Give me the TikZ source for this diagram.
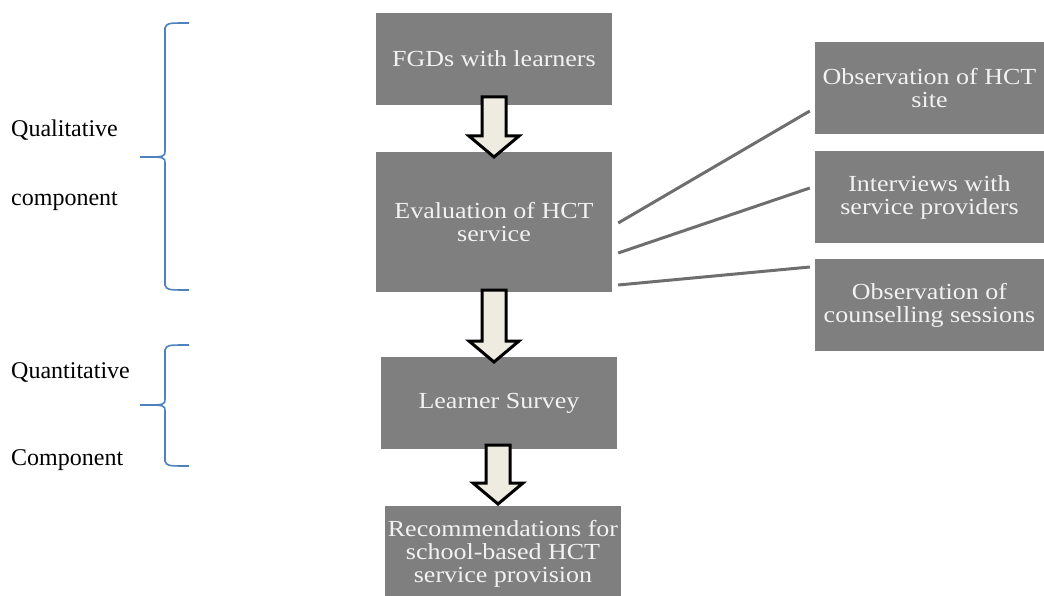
\documentclass[tikz,border=0pt]{standalone}
\usepackage{fontspec}
\setmainfont{Liberation Serif}
\newfontfamily\boxfont{Liberation Serif}[FakeStretch=1.13]
\usetikzlibrary{calc}
\definecolor{boxgray}{HTML}{7F7F7F}
\definecolor{linegray}{HTML}{6E6E6E}
\definecolor{braceblue}{HTML}{4F81BD}
\definecolor{arrowfill}{HTML}{EEECE1}
\definecolor{boxtext}{HTML}{F2F2F2}
\tikzset{
  grbox/.style={rectangle, fill=boxgray, text=boxtext, align=center,
    minimum width=236pt, minimum height=92pt, inner sep=2pt,
    font=\boxfont\fontsize{23}{23}\selectfont},
  sidebox/.style={grbox, minimum width=229pt},
  lbl/.style={anchor=west, inner sep=0pt, font=\fontsize{24}{24}\selectfont},
  link/.style={draw=linegray, line width=3pt},
  brace/.style={draw=braceblue, line width=1.6pt},
  blockarr/.style={draw=black, line width=3pt, fill=arrowfill, line join=miter},
}
\newcommand\myblockarrow[3]{% x, ytop, ybottom
  \draw[blockarr] ($(#1-12,#2)$) -- ($(#1+12,#2)$) -- ($(#1+12,#3-21)$) -- ($(#1+25,#3-21)$)
    -- ($(#1,#3)$) -- ($(#1-25,#3-21)$) -- ($(#1-12,#3-21)$) -- cycle;}
\begin{document}
\begin{tikzpicture}[x=1pt,y=-1pt]
\useasboundingbox (0,0) rectangle (1044,596);
% main boxes
\node[grbox] (fgd) at (494,59) {FGDs with learners};
\node[grbox, minimum height=140pt] (eval) at (494,222) {Evaluation of HCT\\service};
\node[grbox] (survey) at (499,403) {Learner Survey};
\node[grbox, minimum height=90pt] (rec) at (503,551) {};
\node[text=boxtext, align=center, inner sep=0pt, font=\boxfont\fontsize{23}{23}\selectfont]
  (rectext) at (503,554) {Recommendations for\\school-based HCT\\service provision};
% side boxes
\node[sidebox] (obs) at (929.5,88) {Observation of HCT\\site};
\node[sidebox] (int) at (929.5,197) {Interviews with\\service providers};
\node[sidebox] (cou) at (929.5,305) {Observation of\\counselling sessions};
% block arrows
\myblockarrow{494}{97}{157}
\myblockarrow{494}{290}{362}
\myblockarrow{498}{445}{504}
% links
\coordinate (e1) at ($(eval.east)+(6,1)$);
\coordinate (e2) at ($(eval.east)+(6,31)$);
\coordinate (e3) at ($(eval.east)+(6,63)$);
\draw[link] (e1) -- ($(obs.west)+(-5,23)$);
\draw[link] (e2) -- ($(int.west)+(-5,-9)$);
\draw[link] (e3) -- ($(cou.west)+(-5,-38)$);
% braces
\draw[brace] (189,23) .. controls (167,23) .. (165,28) -- (165,151)
  .. controls (165,157) .. (140,157) .. controls (165,157) .. (165,163)
  -- (165,285) .. controls (167,290) .. (189,290);
\draw[brace] (189,345) .. controls (167,345) .. (165,350) -- (165,399)
  .. controls (165,405) .. (140,405) .. controls (165,405) .. (165,411)
  -- (165,461) .. controls (167,466) .. (189,466);
% labels
\node[lbl] (l1) at (11,130) {Qualitative};
\node[lbl] (l2) at (11,201) {component};
\node[lbl] (l3) at (11,372) {Quantitative};
\node[lbl] (l4) at (11,460) {Component};
\end{tikzpicture}
\end{document}
